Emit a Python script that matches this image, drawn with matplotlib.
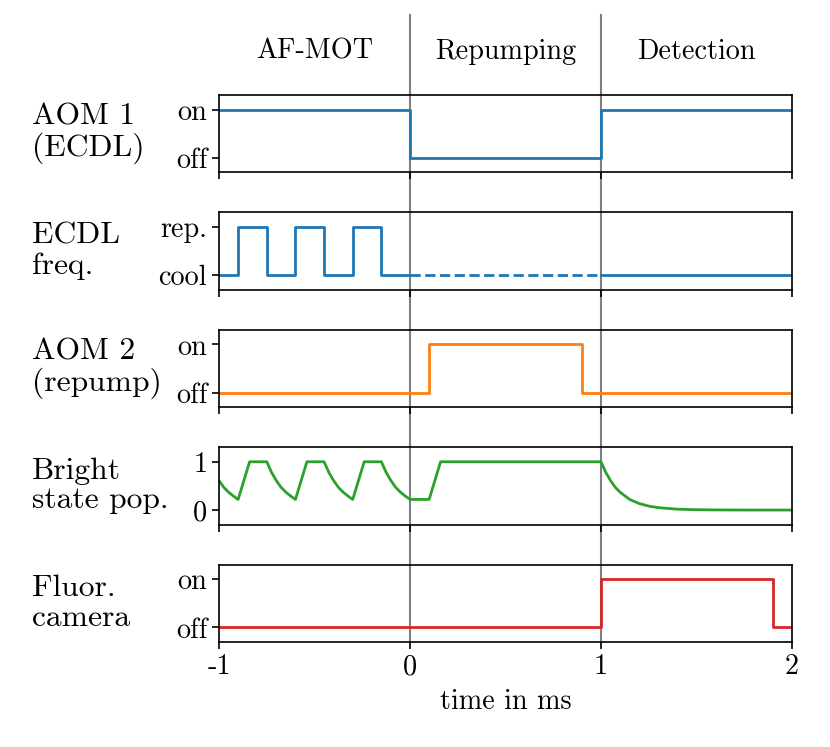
import matplotlib
matplotlib.use("Agg")
import matplotlib.pyplot as plt
from matplotlib.lines import Line2D
from matplotlib.transforms import blended_transform_factory

plt.rcParams['font.family'] = 'cmr10'
plt.rcParams['mathtext.fontset'] = 'cm'
plt.rcParams['axes.unicode_minus'] = False
plt.rcParams['font.size'] = 20.3
plt.rcParams['axes.linewidth'] = 1.2
plt.rcParams['xtick.major.size'] = 5
plt.rcParams['ytick.major.size'] = 5
plt.rcParams['xtick.major.width'] = 1.2
plt.rcParams['ytick.major.width'] = 1.2

# phases
phase_names = ['AF-MOT', 'Repumping', 'Detection']
phase_centers = [-0.5, 0.5, 1.5]
phase_edges = [0, 1]

# AOM 1 (ECDL): on / off
aom1_t = [-1, 0, 1, 2]
aom1_v = [1, 0, 1, 1]

# ECDL frequency: cool (0) / rep. (1)
ecdl_t = [-1, -0.9, -0.75, -0.6, -0.45, -0.3, -0.15, 0]
ecdl_v = [0, 1, 0, 1, 0, 1, 0, 0]
ecdl_dash_t = [0, 1]
ecdl_dash_v = [0, 0]
ecdl_end_t = [1, 2]
ecdl_end_v = [0, 0]

# AOM 2 (repump)
aom2_t = [-1, 0.1, 0.9, 2]
aom2_v = [0, 1, 0, 0]

# bright state population
bright_t = [-1.0, -0.975, -0.95, -0.925, -0.9, -0.84, -0.75,
            -0.725, -0.70, -0.675, -0.65, -0.625, -0.60, -0.54, -0.45,
            -0.425, -0.40, -0.375, -0.35, -0.325, -0.30, -0.24, -0.15,
            -0.125, -0.10, -0.075, -0.05, -0.025, 0.0, 0.10, 0.16, 1.0,
            1.025, 1.05, 1.075, 1.10, 1.15, 1.20, 1.25, 1.30, 1.40, 1.50,
            1.60, 1.80, 2.0]
bright_v = [0.61, 0.47, 0.37, 0.29, 0.22, 1.0, 1.0,
            0.78, 0.61, 0.47, 0.37, 0.29, 0.22, 1.0, 1.0,
            0.78, 0.61, 0.47, 0.37, 0.29, 0.22, 1.0, 1.0,
            0.78, 0.61, 0.47, 0.37, 0.29, 0.22, 0.22, 1.0, 1.0,
            0.78, 0.61, 0.47, 0.37, 0.22, 0.135, 0.082, 0.05, 0.018, 0.007,
            0.0025, 0.0003, 0.0]

# fluorescence camera
cam_t = [-1, 1, 1.9, 2]
cam_v = [0, 1, 0, 0]

row_labels = ['AOM 1\n(ECDL)', 'ECDL\nfreq.', 'AOM 2\n(repump)',
              'Bright\nstate pop.', 'Fluor.\ncamera']
row_ticklabels = [['off', 'on'], ['cool', 'rep.'], ['off', 'on'],
                  ['0', '1'], ['off', 'on']]
xticks = [-1, 0, 1, 2]
xticklabels = ['-1', '0', '1', '2']

lw = 2.0
fig, axes = plt.subplots(5, 1, figsize=(8.3, 7.47), dpi=100, sharex=True)
fig.subplots_adjust(left=0.2639, right=0.9542, top=0.8728, bottom=0.1406,
                    hspace=0.52)

axes[0].step(aom1_t, aom1_v, where='post', color='tab:blue', lw=lw)
axes[1].step(ecdl_t, ecdl_v, where='post', color='tab:blue', lw=lw)
axes[1].plot(ecdl_dash_t, ecdl_dash_v, '--', color='tab:blue', lw=lw)
axes[1].plot(ecdl_end_t, ecdl_end_v, color='tab:blue', lw=lw)
axes[2].step(aom2_t, aom2_v, where='post', color='tab:orange', lw=lw)
axes[3].plot(bright_t, bright_v, color='tab:green', lw=lw)
axes[4].step(cam_t, cam_v, where='post', color='tab:red', lw=lw)

for ax, lab, tl in zip(axes, row_labels, row_ticklabels):
    ax.set_ylim(-0.3, 1.3)
    ax.set_yticks([0, 1])
    ax.set_yticklabels(tl)
    ax.set_xlim(-1, 2)
    ax.patch.set_visible(False)
    pos = ax.get_position()
    fig.text(0.039, (pos.y0 + pos.y1) / 2, lab, ha='left', va='center',
             fontsize=22.7, linespacing=1.1)

axes[-1].set_xticks(xticks)
axes[-1].set_xticklabels(xticklabels)
axes[-1].set_xlabel('time in ms', labelpad=6)

# vertical phase separators across the whole figure
trans = blended_transform_factory(axes[0].transData, fig.transFigure)
for xe in phase_edges:
    fig.add_artist(Line2D([xe, xe], [1 - 15 / 747, 1 - 642 / 747],
                          transform=trans, color='gray', lw=1.5, zorder=-1))

ttrans = blended_transform_factory(axes[0].transData, axes[0].transAxes)
for name, xc in zip(phase_names, phase_centers):
    axes[0].text(xc, 1.56, name, transform=ttrans, ha='center', va='center')

plt.savefig('out.png', dpi=100)
